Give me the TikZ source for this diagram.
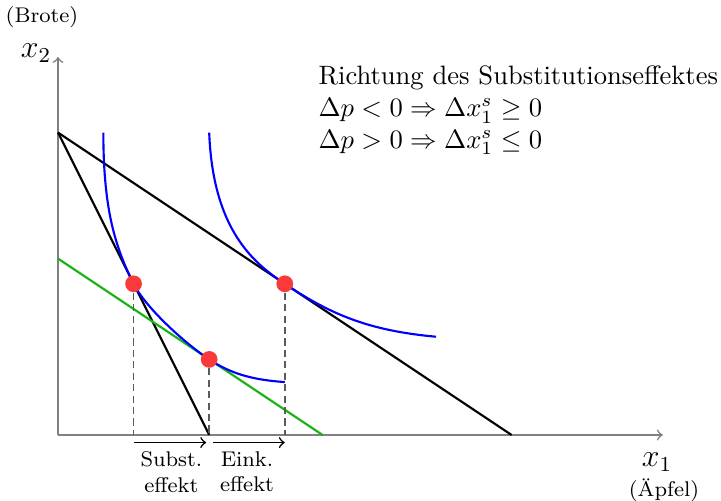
\documentclass[tikz,border=0pt]{standalone}
\definecolor{dotred}{RGB}{250,58,58}
\definecolor{lgreen}{RGB}{20,180,20}
\definecolor{guidegray}{RGB}{90,90,90}
\begin{document}
\begin{tikzpicture}[
  axis/.style={gray, line width=0.6pt, ->},
  budget/.style={black, thick},
  newbudget/.style={lgreen, thick},
  indiff/.style={blue, thick},
  guide/.style={guidegray, line width=0.6pt, dash pattern=on 2.7pt off 1.6pt},
  optdot/.style={circle, fill=dotred, inner sep=0pt, minimum size=6.3pt},
  effarrow/.style={->, black, semithick},
  lbl/.style={font=\footnotesize, align=center}
]
\useasboundingbox (-0.767,-0.873) rectangle (8.77,5.754);
% coordinates
\coordinate (O) at (0,0);
\coordinate (X) at (8,0);
\coordinate (Y) at (0,5);
\coordinate (A) at (0,4);
\coordinate (B) at (2,0);
\coordinate (C) at (6,0);
\coordinate (G1) at (0,7/3);
\coordinate (G2) at (3.5,0);
\coordinate (f1) at (1,0);
\coordinate (f2) at (2,0);
\coordinate (f3) at (3,0);
\coordinate (a1s) at (1,-0.1);
\coordinate (a1e) at (1.96,-0.1);
\coordinate (a2s) at (2.05,-0.1);
\coordinate (a2e) at (3,-0.1);
% axes
\draw[axis] (O) -- (X);
\draw[axis] (O) -- (Y);
% labels
\node[font=\large] (lx2) at (-0.291,5.053) {$x_2$};
\node[font=\footnotesize] (lbrote) at (-0.212,5.529) {(Brote)};
\node[font=\large] (lx1) at (7.923,-0.357) {$x_1$};
\node[font=\footnotesize] (lapfel) at (8.016,-0.728) {(\"Apfel)};
% budget lines
\draw[budget] (A) -- (B);
\draw[budget] (A) -- (C);
\draw[newbudget] (G1) -- (G2);
% indifference curves
\draw[indiff] (0.6,4) .. controls (0.6,3.0) and (0.75,2.5) .. (1,2)
  .. controls (1.15,1.7) and (1.65,1.233) .. (2,1)
  .. controls (2.3,0.8) and (2.6,0.728) .. (3,0.7);
\draw[indiff] (2,4) .. controls (2.05,2.7) and (2.6,2.267) .. (3,2)
  .. controls (3.6,1.6) and (4.1,1.381) .. (5,1.3);
% dots
\node[optdot] (d1) at (1,2) {};
\node[optdot] (d2) at (2,1) {};
\node[optdot] (d3) at (3,2) {};
% guides
\draw[guide] (d1) -- (f1);
\draw[guide] (d2) -- (f2);
\draw[guide] (d3) -- (f3);
% effect arrows
\draw[effarrow] (a1s) -- (a1e);
\draw[effarrow] (a2s) -- (a2e);
\node[lbl, anchor=north] (ls) at (1.5,-0.1) {Subst.\\effekt};
\node[lbl, anchor=north] (le) at (2.5,-0.1) {Eink.\\effekt};
% text
\node[anchor=north west, inner sep=0pt, align=left] (txt) at (3.44,4.89)
  {Richtung des Substitutionseffektes\\
   $\Delta p<0\Rightarrow\Delta x_1^s\ge 0$\\
   $\Delta p>0\Rightarrow\Delta x_1^s\le 0$};
\end{tikzpicture}
\end{document}
